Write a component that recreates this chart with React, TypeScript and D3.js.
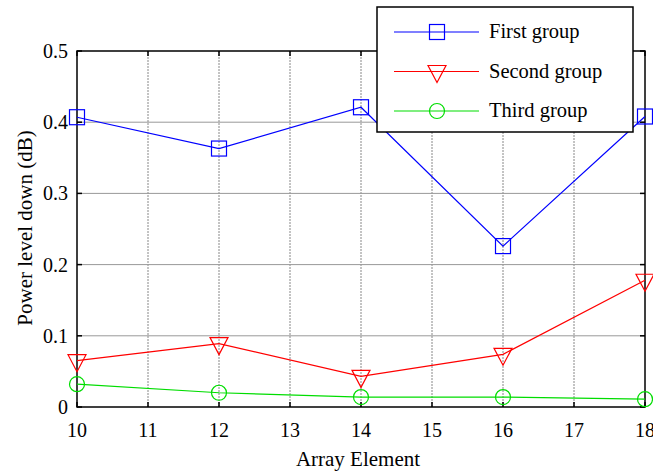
import { useEffect, useRef } from "react";
import * as d3 from "d3";

const arrayElements = [10, 12, 14, 16, 18];
const firstGroup = [0.407, 0.363, 0.421, 0.226, 0.408];
const secondGroup = [0.065, 0.089, 0.043, 0.074, 0.178];
const thirdGroup = [0.032, 0.02, 0.014, 0.014, 0.011];
const xTicks = [10, 11, 12, 13, 14, 15, 16, 17, 18];
const yTicks = [0, 0.1, 0.2, 0.3, 0.4, 0.5];

const series = [
  { name: "First group", values: firstGroup, color: "#0000ff", marker: "square" },
  { name: "Second group", values: secondGroup, color: "#ff0000", marker: "triangle" },
  { name: "Third group", values: thirdGroup, color: "#00dd00", marker: "circle" },
];

const W = 653;
const H = 474;
const PLOT = { left: 77, right: 645, top: 51, bottom: 407 };
const FONT = "'Liberation Serif', 'Times New Roman', serif";

export default function App() {
  const svgRef = useRef<SVGSVGElement>(null);

  useEffect(() => {
    if (!svgRef.current) return;
    const svg = d3.select(svgRef.current);
    svg.selectAll("*").remove();

    const x = d3.scaleLinear().domain([10, 18]).range([PLOT.left, PLOT.right]);
    const y = d3.scaleLinear().domain([0, 0.5]).range([PLOT.bottom, PLOT.top]);

    svg.append("rect").attr("width", W).attr("height", H).attr("fill", "white");

    // Grid
    svg
      .append("g")
      .selectAll("line")
      .data(xTicks.slice(1, -1))
      .join("line")
      .attr("x1", (d) => x(d))
      .attr("x2", (d) => x(d))
      .attr("y1", PLOT.top)
      .attr("y2", PLOT.bottom)
      .attr("stroke", "#888")
      .attr("stroke-width", 1)
      .attr("stroke-dasharray", "2,1");

    svg
      .append("g")
      .selectAll("line")
      .data(yTicks.slice(1, -1))
      .join("line")
      .attr("x1", PLOT.left)
      .attr("x2", PLOT.right)
      .attr("y1", (d) => y(d))
      .attr("y2", (d) => y(d))
      .attr("stroke", "#999")
      .attr("stroke-width", 1);

    // Axes box
    svg
      .append("rect")
      .attr("x", PLOT.left)
      .attr("y", PLOT.top)
      .attr("width", PLOT.right - PLOT.left)
      .attr("height", PLOT.bottom - PLOT.top)
      .attr("fill", "none")
      .attr("stroke", "black")
      .attr("stroke-width", 1.5);

    // Ticks (inward)
    const tk = svg.append("g").attr("stroke", "black").attr("stroke-width", 1.5);
    xTicks.forEach((t) => {
      tk.append("line").attr("x1", x(t)).attr("x2", x(t)).attr("y1", PLOT.bottom).attr("y2", PLOT.bottom - 5);
      tk.append("line").attr("x1", x(t)).attr("x2", x(t)).attr("y1", PLOT.top).attr("y2", PLOT.top + 5);
    });
    yTicks.forEach((t) => {
      tk.append("line").attr("x1", PLOT.left).attr("x2", PLOT.left + 5).attr("y1", y(t)).attr("y2", y(t));
      tk.append("line").attr("x1", PLOT.right).attr("x2", PLOT.right - 5).attr("y1", y(t)).attr("y2", y(t));
    });

    // Tick labels
    svg
      .append("g")
      .selectAll("text")
      .data(xTicks)
      .join("text")
      .attr("x", (d) => x(d))
      .attr("y", PLOT.bottom + 30)
      .attr("text-anchor", "middle")
      .attr("font-family", FONT)
      .attr("font-size", 20)
      .text((d) => d);

    svg
      .append("g")
      .selectAll("text")
      .data(yTicks)
      .join("text")
      .attr("x", PLOT.left - 9)
      .attr("y", (d) => y(d) + 7)
      .attr("text-anchor", "end")
      .attr("font-family", FONT)
      .attr("font-size", 20)
      .text((d) => (d === 0 ? "0" : d3.format(".1f")(d)));

    // Axis titles
    svg
      .append("text")
      .attr("x", 358)
      .attr("y", 466)
      .attr("text-anchor", "middle")
      .attr("font-family", FONT)
      .attr("font-size", 21)
      .text("Array Element");

    svg
      .append("text")
      .attr("transform", `translate(32,228) rotate(-90)`)
      .attr("text-anchor", "middle")
      .attr("font-family", FONT)
      .attr("font-size", 21)
      .text("Power level down (dB)");

    const drawMarker = (g: d3.Selection<SVGGElement, unknown, null, undefined>, kind: string, cx: number, cy: number, color: string) => {
      if (kind === "square") {
        g.append("rect").attr("x", cx - 7.5).attr("y", cy - 7.5).attr("width", 15).attr("height", 15)
          .attr("fill", "none").attr("stroke", color).attr("stroke-width", 1.2);
      } else if (kind === "triangle") {
        g.append("path")
          .attr("d", `M${cx - 9},${cy - 6}L${cx + 9},${cy - 6}L${cx},${cy + 11}Z`)
          .attr("fill", "none").attr("stroke", color).attr("stroke-width", 1.2);
      } else {
        g.append("circle").attr("cx", cx).attr("cy", cy).attr("r", 7.5)
          .attr("fill", "none").attr("stroke", color).attr("stroke-width", 1.2);
      }
    };

    const line = d3
      .line<number>()
      .x((_, i) => x(arrayElements[i]))
      .y((d) => y(d));

    series.forEach((s) => {
      const g = svg.append("g");
      g.append("path").datum(s.values).attr("d", line).attr("fill", "none")
        .attr("stroke", s.color).attr("stroke-width", 1.2);
      s.values.forEach((v, i) => drawMarker(g, s.marker, x(arrayElements[i]), y(v), s.color));
    });

    // Legend
    const lg = svg.append("g");
    lg.append("rect").attr("x", 377).attr("y", 7).attr("width", 256).attr("height", 125)
      .attr("fill", "white").attr("stroke", "black").attr("stroke-width", 1.5);
    series.forEach((s, i) => {
      const ly = 32 + i * 39.5;
      lg.append("line").attr("x1", 394).attr("x2", 479).attr("y1", ly).attr("y2", ly)
        .attr("stroke", s.color).attr("stroke-width", 1.2);
      drawMarker(lg, s.marker, 437, ly, s.color);
      lg.append("text").attr("x", 489).attr("y", ly + 6).attr("font-family", FONT)
        .attr("font-size", 20.5).text(s.name);
    });
  }, []);

  return (
    <svg
      ref={svgRef}
      width={W}
      height={H}
      style={{ position: "absolute", left: 0, top: 0, display: "block" }}
    />
  );
}
